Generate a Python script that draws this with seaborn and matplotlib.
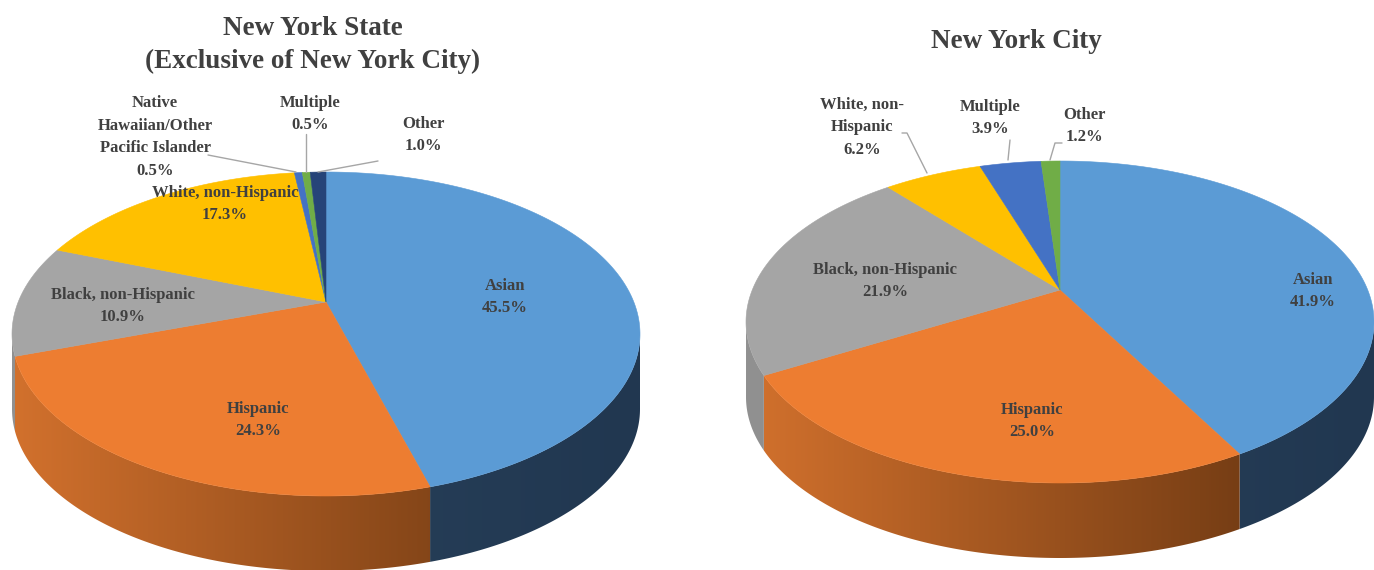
import numpy as np
import matplotlib
matplotlib.use("Agg")
import matplotlib.pyplot as plt
from matplotlib.patches import Polygon
from matplotlib.colors import to_rgb
import seaborn as sns

# ---- data -------------------------------------------------------------
state_groups = ["Asian", "Hispanic", "Black, non-Hispanic", "White, non-Hispanic",
                "Native\nHawaiian/Other\nPacific Islander", "Multiple", "Other"]
state_share = [45.5, 24.3, 10.9, 17.3, 0.5, 0.5, 1.0]

city_groups = ["Asian", "Hispanic", "Black, non-Hispanic", "White, non-\nHispanic",
               "Multiple", "Other"]
city_share = [41.9, 25.0, 21.9, 6.2, 3.9, 1.2]

state_title = "New York State\n(Exclusive of New York City)"
city_title = "New York City"

# ---- style ------------------------------------------------------------
sns.set_theme(style="white")
plt.rcParams["font.family"] = ["Liberation Serif", "DejaVu Serif"]
TEXT = "#404040"
LEADER = "#A6A6A6"

state_colors = ["#5B9BD5", "#ED7D31", "#A5A5A5", "#FFC000", "#4472C4", "#70AD47", "#264478"]
city_colors = ["#5B9BD5", "#ED7D31", "#A5A5A5", "#FFC000", "#4472C4", "#70AD47"]

# side wall gradient (left end, right end) for each top colour
side_shades = {
    "#5B9BD5": ("#2C4762", "#213750"),
    "#ED7D31": ("#D2712D", "#5E300E"),
    "#A5A5A5": ("#919191", "#606060"),
}


def side_gradient(top, n):
    if top in side_shades:
        a, b = (np.array(to_rgb(c)) for c in side_shades[top])
    else:
        base = np.array(to_rgb(top))
        a, b = base * 0.8, base * 0.45
    u = np.linspace(0, 1, n)[:, None]
    return (a + (b - a) * u)[None, :, :]


def boundary_thetas(shares, ry, lift):
    """Parametric ellipse angles where each slice edge meets the rim,
    with the hub raised by `lift` pixels for a perspective look."""
    cum = np.concatenate([[0.0], np.cumsum(shares)]) / np.sum(shares)
    phis = np.deg2rad(-90.0 + 360.0 * cum)
    off = -lift / ry
    out = []
    for p in phis:
        dx, dy = np.cos(p), np.sin(p)
        a = dx * dx + dy * dy
        b = 2 * dy * off
        c = off * off - 1
        t = (-b + np.sqrt(b * b - 4 * a * c)) / (2 * a)
        raw = np.arctan2(dy * t + off, dx * t)
        if not out:
            out.append(raw)
        else:
            prev = out[-1]
            out.append(prev + ((raw - prev) % (2 * np.pi)))
    out[-1] = out[0] + 2 * np.pi
    return np.array(out)


def pie3d(ax, shares, colors, cx, cy, rx, ry, lift, depth):
    th = boundary_thetas(shares, ry, lift)
    ex = lambda t: cx + rx * np.cos(t)
    ey = lambda t: cy + ry * np.sin(t)
    left, right = cx - rx, cx + rx
    # side wall: only the front half (0..pi) is visible
    for k, col in enumerate(colors):
        t0, t1 = max(th[k], 0.0), min(th[k + 1], np.pi)
        if t1 <= t0:
            continue
        ts = np.linspace(t0, t1, max(3, int(np.degrees(t1 - t0) * 2)))
        top = list(zip(ex(ts), ey(ts)))
        bot = list(zip(ex(ts[::-1]), ey(ts[::-1]) + depth))
        wall = Polygon(top + bot, closed=True, facecolor="none", edgecolor="none")
        ax.add_patch(wall)
        im = ax.imshow(side_gradient(col, 256), extent=(left, right, cy + ry + depth + 2, cy - 2),
                       aspect="auto", interpolation="bilinear", zorder=1)
        im.set_clip_path(wall)
    # top face
    hub = (cx, cy - lift)
    for k, col in enumerate(colors):
        ts = np.linspace(th[k], th[k + 1], max(3, int(np.degrees(th[k + 1] - th[k]) * 2)))
        pts = [hub] + list(zip(ex(ts), ey(ts)))
        ax.add_patch(Polygon(pts, closed=True, facecolor=col, edgecolor=col,
                             lw=0.4, zorder=2))


W, H = 1374, 570
fig = plt.figure(figsize=(W / 100, H / 100), dpi=100)
ax = fig.add_axes([0, 0, 1, 1])

pie3d(ax, state_share, state_colors, cx=326, cy=334, rx=314, ry=162, lift=32, depth=75)
pie3d(ax, city_share, city_colors, cx=1060, cy=322, rx=314, ry=161, lift=32, depth=75)

ax.set_xlim(0, W)
ax.set_ylim(H, 0)
ax.set_aspect("auto")
ax.axis("off")

lab_kw = dict(ha="center", va="center", color=TEXT, fontsize=12,
              fontweight="bold", linespacing=1.55, zorder=5)


def label(x, y, name, val):
    ax.text(x, y, f"{name}\n{val:.1f}%", **lab_kw)


# state labels
state_pos = [(505, 297), (258, 420), (123, 306), (225, 204), (155, 137), (310, 114), (423, 135)]
for (x, y), g, v in zip(state_pos, state_groups, state_share):
    label(x, y, g, v)
ax.plot([208, 296], [155, 172], color=LEADER, lw=1, zorder=4)
ax.plot([306, 306], [134, 172], color=LEADER, lw=1, zorder=4)
ax.plot([378, 318], [161, 172], color=LEADER, lw=1, zorder=4)

# city labels
city_pos = [(1313, 291), (1032, 421), (885, 281), (862, 127), (990, 118), (1084, 126)]
for (x, y), g, v in zip(city_pos, city_groups, city_share):
    label(x, y, g, v)
ax.plot([902, 907, 927], [133, 133, 173], color=LEADER, lw=1, zorder=4)
ax.plot([1010, 1008], [140, 160], color=LEADER, lw=1, zorder=4)
ax.plot([1062, 1055, 1050], [143, 143, 160], color=LEADER, lw=1, zorder=4)

title_kw = dict(ha="center", va="center", color=TEXT, fontsize=19.5,
                fontweight="bold", linespacing=1.45)
ax.text(313, 45, state_title, **title_kw)
ax.text(1016, 41, city_title, **title_kw)

fig.savefig("out.png", dpi=100, facecolor="white")
